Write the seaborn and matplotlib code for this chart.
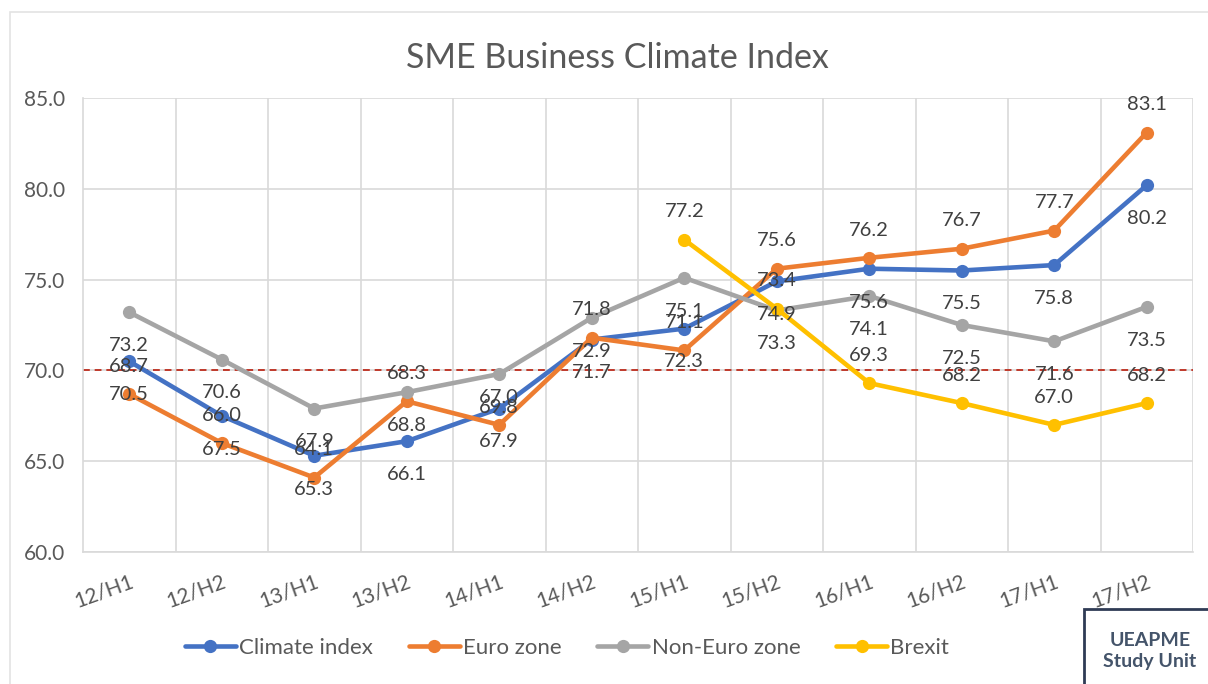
import numpy as np
import pandas as pd
import matplotlib
matplotlib.use("Agg")
import matplotlib.pyplot as plt
from matplotlib.patches import Rectangle
from matplotlib.transforms import ScaledTranslation
import seaborn as sns

categories = ["12/H1", "12/H2", "13/H1", "13/H2", "14/H1", "14/H2",
              "15/H1", "15/H2", "16/H1", "16/H2", "17/H1", "17/H2"]
climate_index = [70.5, 67.5, 65.3, 66.1, 67.9, 71.7, 72.3, 74.9, 75.6, 75.5, 75.8, 80.2]
euro_zone = [68.7, 66.0, 64.1, 68.3, 67.0, 71.8, 71.1, 75.6, 76.2, 76.7, 77.7, 83.1]
non_euro_zone = [73.2, 70.6, 67.9, 68.8, 69.8, 72.9, 75.1, 73.3, 74.1, 72.5, 71.6, 73.5]
brexit = [np.nan] * 6 + [77.2, 73.4, 69.3, 68.2, 67.0, 68.2]
threshold = 70.0
series_names = ["Climate index", "Euro zone", "Non-Euro zone", "Brexit"]
colors = ["#4472C4", "#ED7D31", "#A5A5A5", "#FFC000"]

sns.set_theme(style="white")
plt.rcParams["font.family"] = ["Lato", "DejaVu Sans"]

TXT = "#595959"

rows = []
for name, vals in zip(series_names, [climate_index, euro_zone, non_euro_zone, brexit]):
    for i, v in enumerate(vals):
        rows.append({"pos": i, "value": v, "series": name})
df = pd.DataFrame(rows)

fig = plt.figure(figsize=(12.08, 6.84), dpi=100)
ax = fig.add_axes([83 / 1208, 1 - 552 / 684, (1193 - 83) / 1208, (552 - 98) / 684])

sns.lineplot(data=df.dropna(), x="pos", y="value", hue="series", hue_order=series_names,
             palette=colors, marker="o", markersize=9.5, markeredgewidth=0,
             linewidth=3.3, sort=False, ax=ax, legend=True, zorder=3)

ax.axhline(threshold, color="#C0392B", linestyle=(0, (3.5, 2.5)), linewidth=1.4, zorder=2)

# data labels: above for Euro zone and Brexit, below for Climate index and Non-Euro zone
offsets = {"Climate index": -24, "Euro zone": 20, "Non-Euro zone": -24, "Brexit": 20}
for name, vals in zip(series_names, [climate_index, euro_zone, non_euro_zone, brexit]):
    for i, v in enumerate(vals):
        if np.isnan(v):
            continue
        ax.annotate(f"{v:.1f}", (i, v), xytext=(0, offsets[name]), textcoords="offset points",
                    ha="center", va="center", fontsize=14.5, color="#404040", zorder=4)

ax.set_xlim(-0.5, len(categories) - 0.5)
ax.set_ylim(60, 85)
ax.set_yticks(np.arange(60, 85.1, 5))
ax.set_yticklabels([f"{t:.1f}" for t in np.arange(60, 85.1, 5)], color=TXT, fontsize=15)
ax.set_xticks(np.arange(len(categories)))
ax.set_xticklabels(categories, rotation=20, ha="right", color=TXT, fontsize=15)
ax.set_xticks(np.arange(len(categories)) + 0.5, minor=True)
ax.tick_params(axis="x", which="major", length=0, pad=14)
ax.tick_params(axis="y", length=0, pad=13)
shift = ScaledTranslation(7 / 100, 0, fig.dpi_scale_trans)
for lbl in ax.get_xticklabels():
    lbl.set_transform(lbl.get_transform() + shift)
ax.grid(False)
ax.yaxis.grid(True, color="#D9D9D9", linewidth=1.2)
ax.xaxis.grid(True, which="minor", color="#D9D9D9", linewidth=1.2)
for s in ax.spines.values():
    s.set_visible(False)
for side in ("left", "bottom"):
    ax.spines[side].set_visible(True)
    ax.spines[side].set_color("#D9D9D9")
    ax.spines[side].set_linewidth(1.2)
ax.set_xlabel("")
ax.set_ylabel("")

handles, labels = ax.get_legend_handles_labels()
ax.legend_.remove()
fig.legend(handles, labels, loc="center", bbox_to_anchor=(567 / 1208, 1 - 648 / 684),
           ncol=4, frameon=False, fontsize=16, handlelength=2.3, columnspacing=1.6,
           handletextpad=0.15, labelcolor=TXT)

fig.text(617 / 1208, 1 - 58 / 684, "SME Business Climate Index", ha="center", va="center",
         fontsize=24.5, color=TXT)

# outer chart border
fig.patches.append(Rectangle((10 / 1208, -0.1), 1.2, 1 - 12 / 684 + 0.1, transform=fig.transFigure,
                             fill=False, edgecolor="#E3E3E3", linewidth=1.2))
# Study unit box
fig.patches.append(Rectangle((1084 / 1208, -0.1), 0.2, 1 - 609 / 684 + 0.1, transform=fig.transFigure,
                             facecolor="white", edgecolor="#2F3B55", linewidth=2, zorder=5))
fig.text(1150 / 1208, 1 - 651 / 684, "UEAPME\nStudy Unit", ha="center", va="center",
         fontsize=14, fontweight="bold", color="#44546A", linespacing=1.25, zorder=6)

fig.savefig("out.png", dpi=100)
